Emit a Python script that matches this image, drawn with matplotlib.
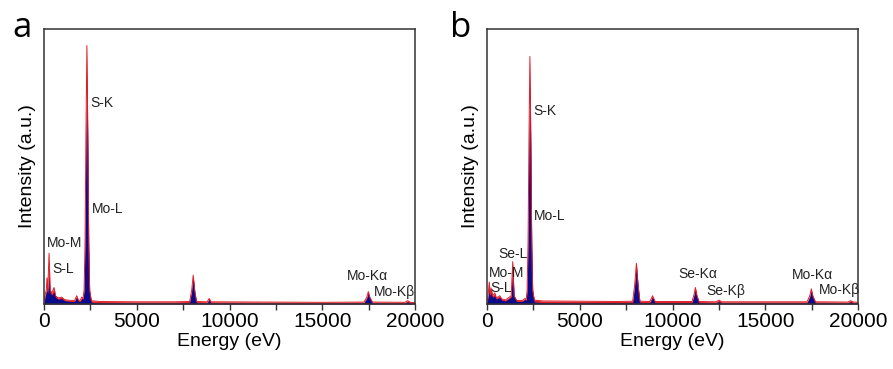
import matplotlib
matplotlib.use("Agg")
import matplotlib.pyplot as plt
from matplotlib.ticker import MultipleLocator

plt.rcParams["font.family"] = ["Liberation Sans", "DejaVu Sans"]

# Panel a: energy (eV), outer (red) and inner (blue) intensity
energy_a = [0, 60, 120, 160, 200, 270, 330, 420, 540, 620, 760, 950, 1100, 1400,
            1650, 1760, 1860, 1960, 2030, 2100, 2160, 2210, 2260, 2310, 2360,
            2410, 2460, 2550, 3000, 5000, 7000, 7850, 7960, 8040, 8120, 8220,
            8800, 8900, 9000, 12000, 15000, 17250, 17400, 17480, 17560, 17700,
            19450, 19600, 19750, 20000]
red_a = [0.0, 0.035, 0.05, 0.095, 0.045, 0.185, 0.05, 0.04, 0.06, 0.03, 0.022,
         0.025, 0.016, 0.013, 0.013, 0.03, 0.013, 0.014, 0.025, 0.02, 0.05,
         0.22, 0.62, 0.94, 0.62, 0.22, 0.05, 0.012, 0.009, 0.008, 0.008,
         0.009, 0.05, 0.105, 0.05, 0.009, 0.008, 0.02, 0.008, 0.007, 0.006,
         0.007, 0.025, 0.045, 0.025, 0.007, 0.006, 0.012, 0.006, 0.005]
blue_a = [0.0, 0.028, 0.04, 0.07, 0.035, 0.10, 0.04, 0.032, 0.045, 0.024, 0.017,
          0.02, 0.012, 0.009, 0.009, 0.025, 0.009, 0.01, 0.02, 0.016, 0.045,
          0.2, 0.57, 0.84, 0.57, 0.2, 0.045, 0.006, 0.004, 0.003, 0.003,
          0.004, 0.045, 0.099, 0.045, 0.004, 0.003, 0.016, 0.003, 0.002,
          0.002, 0.003, 0.021, 0.04, 0.021, 0.003, 0.002, 0.008, 0.002, 0.001]

# Panel b
energy_b = [0, 60, 120, 170, 220, 300, 420, 500, 680, 800, 1000, 1300, 1385,
            1460, 1600, 1900, 2050, 2110, 2160, 2210, 2260, 2310, 2360, 2410,
            2460, 2550, 3000, 5000, 7000, 7850, 7960, 8050, 8140, 8240, 8780,
            8920, 9060, 11050, 11160, 11230, 11300, 11420, 12350, 12500, 12650,
            17250, 17400, 17480, 17560, 17700, 19450, 19600, 19750, 20000]
red_b = [0.0, 0.035, 0.08, 0.035, 0.058, 0.03, 0.04, 0.022, 0.03, 0.018, 0.015,
         0.03, 0.154, 0.03, 0.013, 0.013, 0.02, 0.016, 0.05, 0.22, 0.6, 0.90,
         0.6, 0.22, 0.05, 0.014, 0.011, 0.01, 0.009, 0.01, 0.07, 0.148, 0.07,
         0.01, 0.009, 0.03, 0.009, 0.009, 0.035, 0.06, 0.035, 0.009, 0.008,
         0.014, 0.008, 0.008, 0.03, 0.055, 0.03, 0.008, 0.007, 0.012, 0.007,
         0.006]
blue_b = [0.0, 0.028, 0.05, 0.028, 0.04, 0.024, 0.03, 0.017, 0.024, 0.013,
          0.011, 0.024, 0.13, 0.024, 0.009, 0.009, 0.016, 0.012, 0.045, 0.2,
          0.55, 0.80, 0.55, 0.2, 0.045, 0.007, 0.005, 0.004, 0.004, 0.005,
          0.064, 0.141, 0.064, 0.005, 0.004, 0.025, 0.004, 0.004, 0.03, 0.054,
          0.03, 0.004, 0.003, 0.009, 0.003, 0.003, 0.025, 0.049, 0.025, 0.003,
          0.002, 0.008, 0.002, 0.001]

# Peak labels: (text, energy, intensity) of the label's left edge / centre
labels_a = [("S-K", 2500, 0.73), ("Mo-L", 2600, 0.345), ("Mo-M", 170, 0.22),
            ("S-L", 470, 0.127), ("Mo-Kα", 16350, 0.103),
            ("Mo-Kβ", 17800, 0.045)]
labels_b = [("S-K", 2480, 0.70), ("Mo-L", 2500, 0.32), ("Se-L", 610, 0.18),
            ("Mo-M", 110, 0.114), ("S-L", 200, 0.057),
            ("Se-Kα", 10310, 0.108), ("Se-Kβ", 11840, 0.048),
            ("Mo-Kα", 16420, 0.105), ("Mo-Kβ", 17860, 0.051)]

RED = "#e0202c"
BLUE = "#0a0a8c"
SPINE = "#333333"


def draw_panel(ax, energy, red, blue, labels, letter, letter_x):
    ax.fill_between(energy, 0, red, color=RED, linewidth=0)
    ax.fill_between(energy, 0, blue, color=BLUE, linewidth=0)
    ax.plot(energy, red, color=RED, linewidth=0.7)

    for text, x, y in labels:
        ax.text(x, y, text, fontsize=10, va="center", ha="left", color="#222222")

    ax.set_xlim(0, 20000)
    ax.set_ylim(0, 1)
    ax.set_yticks([])
    ax.xaxis.set_major_locator(MultipleLocator(5000))
    ax.xaxis.set_minor_locator(MultipleLocator(2500))
    ax.tick_params(axis="x", which="both", direction="out", length=4,
                   width=1, color=SPINE, labelsize=15, pad=2)
    for spine in ax.spines.values():
        spine.set_color(SPINE)
        spine.set_linewidth(1.1)

    ax.set_xlabel("Energy (eV)", fontsize=14, labelpad=1)
    ax.set_ylabel("Intensity (a.u.)", fontsize=14, labelpad=6)
    ax.text(letter_x, 0.97, letter, transform=ax.transAxes, fontsize=25,
            family=["Open Sans", "DejaVu Sans"], va="baseline", ha="center")


fig = plt.figure(figsize=(8.93, 3.69), dpi=100)
ax_a = fig.add_axes([0.0493, 0.1762, 0.4155, 0.7452])
ax_b = fig.add_axes([0.5454, 0.1762, 0.4155, 0.7452])

draw_panel(ax_a, energy_a, red_a, blue_a, labels_a, "a", -0.059)
draw_panel(ax_b, energy_b, red_b, blue_b, labels_b, "b", -0.07)

fig.savefig("out.png", dpi=100)
